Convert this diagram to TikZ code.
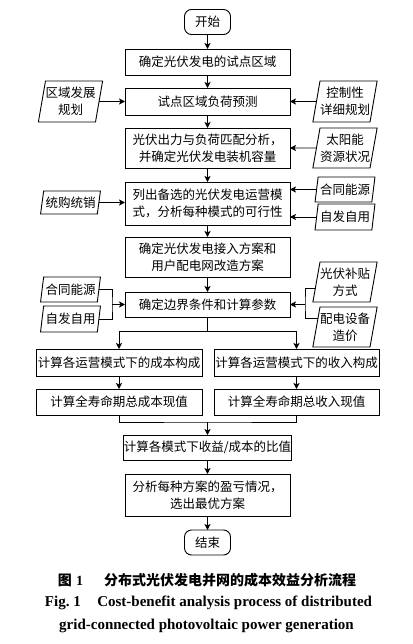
\documentclass[tikz,border=0pt]{standalone}
\usepackage{fontspec}
\setmainfont{Liberation Serif}
\newfontfamily\cjk{Noto Sans CJK SC}
\usetikzlibrary{arrows.meta,shapes.geometric,calc}
\begin{document}
\begin{tikzpicture}[x=1pt,y=-1pt,
  every node/.style={font=\cjk\fontsize{12.5}{17}\selectfont, inner sep=0pt, outer sep=0pt, align=center},
  box/.style={draw, line width=0.9pt, minimum width=165pt},
  term/.style={draw, line width=0.9pt, rounded corners=7pt, minimum width=46pt, minimum height=25pt},
  para/.style={draw, line width=0.9pt, trapezium, trapezium left angle=76, trapezium right angle=104, trapezium stretches=true, minimum width=60pt},
  arr/.style={line width=0.9pt, -{Stealth[length=6pt,width=6pt,inset=1.5pt]}},
  ln/.style={line width=0.9pt}]
\useasboundingbox (0,0) rectangle (412,644);
% main column
\node[term] (start) at (207.5,22) {开始};
\node[box, minimum height=26pt] (b1) at (207.5,62) {确定光伏发电的试点区域};
\node[box, minimum height=27pt] (b2) at (207.5,101.5) {试点区域负荷预测};
\node[box, minimum height=40pt] (b3) at (207.5,148) {光伏出力与负荷匹配分析，\\并确定光伏发电装机容量};
\node[box, minimum height=43pt] (b4) at (207.5,203.5) {列出备选的光伏发电运营模\\式，分析每种模式的可行性};
\node[box, minimum height=40pt] (b5) at (207.5,257) {确定光伏发电接入方案和\\用户配电网改造方案};
\node[box, minimum height=25pt] (b6) at (207.5,304.5) {确定边界条件和计算参数};
\node[box, minimum width=166pt, minimum height=27pt] (b7l) at (119,362.5) {计算各运营模式下的成本构成};
\node[box, minimum height=27pt] (b7r) at (296.5,362.5) {计算各运营模式下的收入构成};
\node[box, minimum width=166pt, minimum height=26pt] (b8l) at (119,402) {计算全寿命期总成本现值};
\node[box, minimum height=26pt] (b8r) at (296.5,402) {计算全寿命期总收入现值};
\node[box, minimum height=25pt] (b9) at (207.5,447.5) {计算各模式下收益/成本的比值};
\node[box, minimum height=42pt] (b10) at (207.5,495) {分析每种方案的盈亏情况，\\选出最优方案};
\node[term] (end) at (207.5,542.5) {结束};
% side inputs
\node[para, minimum height=41pt] (pl1) at (70.5,101.5) {区域发展\\规划};
\node[para, minimum height=41pt] (pr1) at (345,101.5) {控制性\\详细规划};
\node[para, minimum height=40pt] (pr2) at (345,148) {太阳能\\资源状况};
\node[para, minimum height=23pt] (pl2) at (70.5,202.5) {统购统销};
\node[para, minimum height=25pt] (pr3) at (345,189.5) {合同能源};
\node[para, minimum height=26pt] (pr4) at (345,217) {自发自用};
\node[para, minimum height=25pt] (pl3) at (70.5,289.5) {合同能源};
\node[para, minimum height=26pt] (pl4) at (70.5,319) {自发自用};
\node[para, minimum height=40pt] (pr5) at (345,282) {光伏补贴\\方式};
\node[para, minimum height=40pt] (pr6) at (345,327) {配电设备\\造价};
% main arrows
\draw[arr] (start) -- (b1);
\draw[arr] (b1) -- (b2);
\draw[arr] (b2) -- (b3);
\draw[arr] (b3) -- (b4);
\draw[arr] (b4) -- (b5);
\draw[arr] (b5) -- (b6);
\draw[arr] (pl1.east) -- (b2.west);
\draw[arr] (pr1.west) -- (b2.east);
\draw[arr] (pr2.west) -- (b3.east);
\draw[arr] (pl2.east) -- (pl2.east -| b4.west);
\draw[arr] (pr3.west) -- (pr3.west -| b4.east);
\draw[arr] (pr4.west) -- (pr4.west -| b4.east);
% brackets into b6
\coordinate (lb) at ($(b6.west)+(-13,0)$);
\draw[ln] (pl3.east) -| (lb) |- (pl4.east);
\draw[arr] (lb) -- (b6.west);
\coordinate (rb) at ($(b6.east)+(15,0)$);
\coordinate (c5) at ($(pr5.top left corner)!0.65!(pr5.bottom left corner)$);
\coordinate (c6) at ($(pr6.top left corner)!0.275!(pr6.bottom left corner)$);
\draw[ln] (c5) -| (rb) |- (c6);
\draw[arr] (rb) -- (b6.east);
% split
\coordinate (s1) at ($(b6.south)+(0,14)$);
\draw[ln] (b6.south) -- (s1);
\draw[arr] (s1) -| (b7l.north);
\draw[arr] (s1) -| (b7r.north);
\draw[arr] (b7l) -- (b8l);
\draw[arr] (b7r) -- (b8r);
% merge
\coordinate (m) at ($(b9.north)+(0,-13)$);
\draw[ln] (b8l.south) |- (m) -| (b8r.south);
\draw[arr] (m) -- (b9.north);
\draw[arr] (b9) -- (b10);
\draw[arr] (b10) -- (end);
% caption
\node[font=\cjk\bfseries\fontsize{14}{16}\selectfont] (cap1) at (207,580) {图\hspace{0.3em}{\rmfamily\bfseries 1}\hspace{1.5em}分布式光伏发电并网的成本效益分析流程};
\node[font=\rmfamily\bfseries\fontsize{15}{17}\selectfont] (cap2) at (208.5,603) {Fig.~1\hspace{1.1em}Cost-benefit analysis process of distributed};
\node[font=\rmfamily\bfseries\fontsize{15}{17}\selectfont] (cap3) at (206.5,626) {grid-connected photovoltaic power generation};
\end{tikzpicture}
\end{document}
